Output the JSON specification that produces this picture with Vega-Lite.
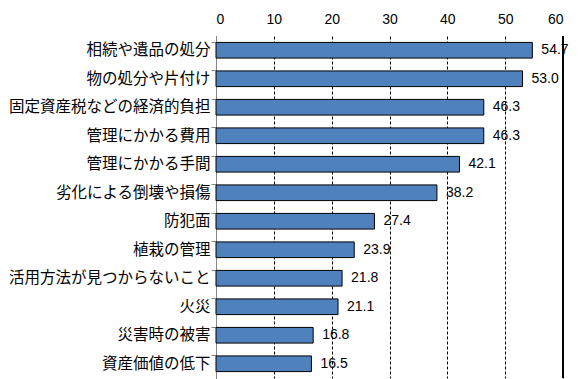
{
  "$schema": "https://vega.github.io/schema/vega-lite/v6.json",
  "width": 347,
  "height": 342,
  "autosize": "none",
  "padding": {"left": 216, "top": 36, "right": 21, "bottom": 1},
  "background": "white",
  "config": {"view": {"stroke": null}, "font": "Noto Sans CJK JP"},
  "data": {"values": [
    {"item": "相続や遺品の処分", "value": 54.7},
    {"item": "物の処分や片付け", "value": 53.0},
    {"item": "固定資産税などの経済的負担", "value": 46.3},
    {"item": "管理にかかる費用", "value": 46.3},
    {"item": "管理にかかる手間", "value": 42.1},
    {"item": "劣化による倒壊や損傷", "value": 38.2},
    {"item": "防犯面", "value": 27.4},
    {"item": "植栽の管理", "value": 23.9},
    {"item": "活用方法が見つからないこと", "value": 21.8},
    {"item": "火災", "value": 21.1},
    {"item": "災害時の被害", "value": 16.8},
    {"item": "資産価値の低下", "value": 16.5}
  ]},
  "layer": [
    {
      "mark": {"type": "bar", "fill": "#4F81BD", "stroke": "black", "strokeWidth": 1},
      "encoding": {
        "x": {"field": "value", "type": "quantitative", "scale": {"domain": [0, 60]},
          "axis": {"orient": "top", "title": null, "values": [0, 10, 20, 30, 40, 50, 60], "grid": true, "gridDash": [3, 2], "gridColor": "black", "gridOpacity": 1, "domain": false, "ticks": false, "labelFontSize": 14, "labelColor": "black", "labelPadding": 10, "labelFont": "Liberation Sans"}},
        "y": {"field": "item", "type": "nominal", "sort": null, "scale": {"paddingInner": 0.45, "paddingOuter": 0.225},
          "axis": {"title": null, "orient": "left", "ticks": false, "domain": false, "labelFontSize": 15.5, "labelColor": "black", "labelPadding": 6, "labelLimit": 300}}
      }
    },
    {
      "mark": {"type": "text", "align": "left", "baseline": "middle", "dx": 9, "fontSize": 14, "color": "black", "font": "Liberation Sans"},
      "encoding": {
        "x": {"field": "value", "type": "quantitative"},
        "y": {"field": "item", "type": "nominal", "sort": null,
          "axis": {"title": null, "orient": "left", "labels": false, "ticks": true, "tickSize": 5, "tickColor": "#888888", "bandPosition": 0, "domain": true, "domainColor": "#888888", "grid": false}},
        "text": {"field": "value", "type": "quantitative", "format": ".1f"}
      }
    },
    {
      "mark": {"type": "rule", "color": "black", "strokeWidth": 1},
      "encoding": {"x": {"datum": 60}}
    }
  ],
  "resolve": {"axis": {"y": "independent"}}
}
